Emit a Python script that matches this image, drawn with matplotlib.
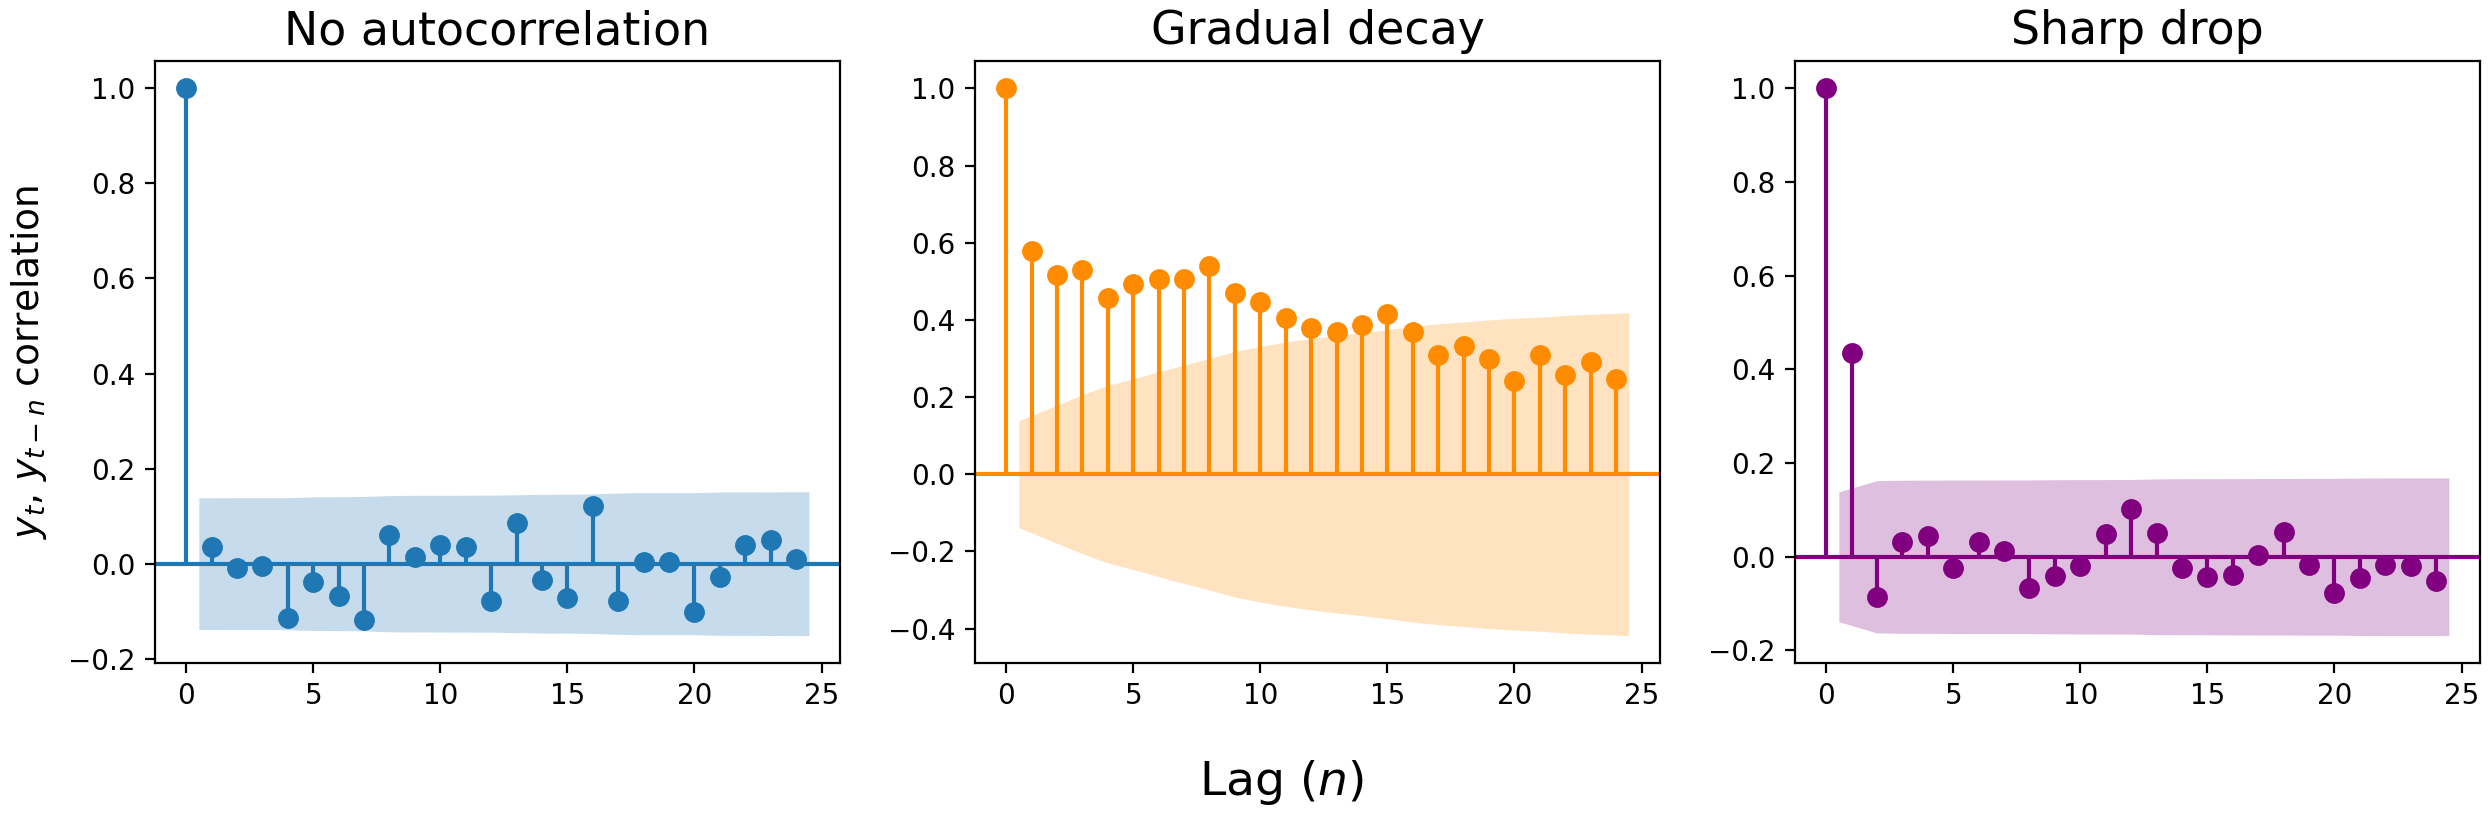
import numpy as np
import matplotlib
matplotlib.use("Agg")
import matplotlib.pyplot as plt

DPI = 200
W, H = 2490, 818

lags = list(range(25))
n_obs = 200

acf_none = [1.0, 0.035, -0.009, -0.005, -0.115, -0.039, -0.068, -0.118, 0.061, 0.013,
            0.039, 0.035, -0.078, 0.085, -0.035, -0.072, 0.121, -0.078, 0.004, 0.004,
            -0.101, -0.028, 0.039, 0.049, 0.010]
acf_gradual = [1.0, 0.578, 0.517, 0.528, 0.457, 0.493, 0.505, 0.507, 0.539, 0.470,
               0.447, 0.406, 0.378, 0.368, 0.387, 0.416, 0.368, 0.308, 0.331, 0.298,
               0.242, 0.310, 0.258, 0.291, 0.248]
acf_sharp = [1.0, 0.434, -0.085, 0.031, 0.044, -0.025, 0.031, 0.013, -0.066, -0.042,
             -0.019, 0.048, 0.103, 0.050, -0.025, -0.044, -0.039, 0.003, 0.052, -0.017,
             -0.077, -0.046, -0.017, -0.019, -0.052]

titles = ["No autocorrelation", "Gradual decay", "Sharp drop"]
colors = ["#1f77b4", "darkorange", "purple"]
series = [acf_none, acf_gradual, acf_sharp]


def bartlett_band(acf, n):
    a = np.asarray(acf, dtype=float)
    var = np.ones(len(a)) / n
    var[0] = 0
    var[2:] *= 1 + 2 * np.cumsum(a[1:-1] ** 2)
    return 1.959964 * np.sqrt(var)


fig = plt.figure(figsize=(W / DPI, H / DPI), dpi=DPI)
lefts = [155 / W, 975 / W, 1795 / W]
bottom = 1 - 663 / H
height = 602 / H
width = 685 / W

for i in range(3):
    ax = fig.add_axes([lefts[i], bottom, width, height])
    acf = np.asarray(series[i])
    x = np.asarray(lags, dtype=float)
    c = colors[i]
    ax.vlines(x, [0], acf, color=c, lw=1.5)
    ax.axhline(0, color=c, lw=1.5)
    ax.plot(x, acf, marker="o", markersize=6.5, linestyle="None", color=c)
    band = bartlett_band(acf, n_obs)
    bx = x[1:].copy()
    bx[0] -= 0.5
    bx[-1] += 0.5
    ax.fill_between(bx, -band[1:], band[1:], color=c, alpha=0.25, lw=0)
    ax.margins(0.05)
    ax.set_title(titles[i], fontsize=16.5)
    ax.set_xticks([0, 5, 10, 15, 20, 25])
    ax.tick_params(labelsize=10)
    if i == 0:
        ax.set_ylabel("$y_t$, $y_{t-n}$ correlation", fontsize=13.5, labelpad=7)

fig.text(1282 / W, 1 - 795 / H, "Lag ($n$)", fontsize=17, ha="center", va="baseline")

fig.savefig("out.png", dpi=DPI)
